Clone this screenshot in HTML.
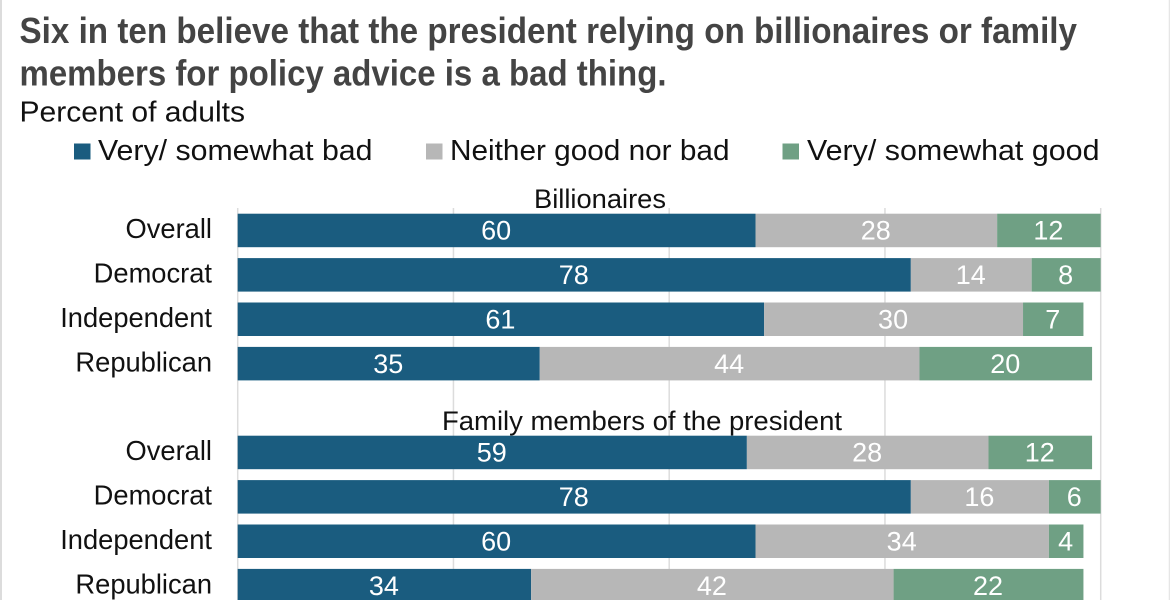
<!DOCTYPE html>
<html lang="en">
<head>
<meta charset="utf-8">
<title>Billionaires and family members as policy advisers</title>
<style>
html,body{margin:0;padding:0;background:#fff;}
body{width:1170px;height:600px;overflow:hidden;}
svg{display:block;font-family:"Liberation Sans",sans-serif;}
</style>
</head>
<body>
<svg id="chart" width="1170" height="600" viewBox="0 0 1170 600" xmlns="http://www.w3.org/2000/svg">
  <rect x="0" y="0" width="2" height="600" fill="#dcdcdc"/>
  <rect x="1168.7" y="0" width="1.3" height="600" fill="#e6e6e6"/>
  <text x="19.5" y="43" font-size="36" font-weight="700" fill="#444444" textLength="1057.5" lengthAdjust="spacingAndGlyphs">Six in ten believe that the president relying on billionaires or family</text>
  <text x="19.5" y="85.5" font-size="36" font-weight="700" fill="#444444" textLength="647" lengthAdjust="spacingAndGlyphs">members for policy advice is a bad thing.</text>
  <text x="19.5" y="121.5" font-size="29" fill="#111111" textLength="225.5" lengthAdjust="spacingAndGlyphs">Percent of adults</text>
  <g>
    <rect x="74" y="143.5" width="16.5" height="16" fill="#1a5c7f"/>
    <text x="98" y="160" font-size="29" fill="#111111" textLength="274.5" lengthAdjust="spacingAndGlyphs">Very/ somewhat bad</text>
    <rect x="426" y="143.5" width="16.5" height="16" fill="#b7b7b7"/>
    <text x="450" y="160" font-size="29" fill="#111111" textLength="279.5" lengthAdjust="spacingAndGlyphs">Neither good nor bad</text>
    <rect x="782.5" y="143.5" width="16.5" height="16" fill="#6fa084"/>
    <text x="807" y="160" font-size="29" fill="#111111" textLength="292.5" lengthAdjust="spacingAndGlyphs">Very/ somewhat good</text>
  </g>
  <g id="grid"></g>
  <g id="bars"></g>
  <text x="600" y="208" font-size="27" fill="#111111" text-anchor="middle" textLength="132" lengthAdjust="spacingAndGlyphs">Billionaires</text>
  <text x="642" y="430" font-size="27" fill="#111111" text-anchor="middle" textLength="400" lengthAdjust="spacingAndGlyphs">Family members of the president</text>
</svg>
<script>
const categories = ['Overall', 'Democrat', 'Independent', 'Republican'];
const gridTicks = [0, 25, 50, 75, 100];
const billionairesBad = [60, 78, 61, 35];
const billionairesNeither = [28, 14, 30, 44];
const billionairesGood = [12, 8, 7, 20];
const familyBad = [59, 78, 60, 34];
const familyNeither = [28, 16, 34, 42];
const familyGood = [12, 6, 4, 22];

const NS = 'http://www.w3.org/2000/svg';
const xScale = function (v) { return 237.7 + v * 8.63; };
const rowTop = function (panel, row) { return (panel === 0 ? 213.7 : 435.7) + row * 44.4; };
const BAR_HEIGHT = 33.5;
const COLORS = ['#1a5c7f', '#b7b7b7', '#6fa084'];
const SERIES_KEYS = ['bad', 'neither', 'good'];
const gridLayer = document.getElementById('grid');
const barLayer = document.getElementById('bars');

gridTicks.forEach(function (t) {
  const line = document.createElementNS(NS, 'line');
  
  
  line.setAttribute('x1', xScale(t));
  line.setAttribute('x2', xScale(t));
  line.setAttribute('y1', 208);
  line.setAttribute('y2', 600);
  line.setAttribute('stroke', '#dcdcdc');
  line.setAttribute('stroke-width', 1.5);
  gridLayer.appendChild(line);
});

function drawPanel(panel, seriesList) {
  categories.forEach(function (cat, row) {
    const top = rowTop(panel, row);
    const label = document.createElementNS(NS, 'text');
    
    
    label.setAttribute('x', 212);
    label.setAttribute('y', top + 24.5);
    label.setAttribute('text-anchor', 'end');
    label.setAttribute('font-size', 27.3);
    label.setAttribute('fill', '#111111');
    label.textContent = cat;
    barLayer.appendChild(label);

    let acc = 0;
    seriesList.forEach(function (series, s) {
      const v = series[row];
      const x0 = xScale(acc);
      const x1 = xScale(acc + v);
      const rect = document.createElementNS(NS, 'rect');
      
      
      rect.setAttribute('x', x0);
      rect.setAttribute('y', top);
      rect.setAttribute('width', x1 - x0);
      rect.setAttribute('height', BAR_HEIGHT);
      rect.setAttribute('fill', COLORS[s]);
      barLayer.appendChild(rect);

      const text = document.createElementNS(NS, 'text');
      
      
      text.setAttribute('x', (x0 + x1) / 2 - 0.5);
      text.setAttribute('y', top + 26);
      text.setAttribute('text-anchor', 'middle');
      text.setAttribute('font-size', 27);
      text.setAttribute('fill', '#ffffff');
      text.textContent = v;
      barLayer.appendChild(text);
      acc += v;
    });
  });
}

drawPanel(0, [billionairesBad, billionairesNeither, billionairesGood]);
drawPanel(1, [familyBad, familyNeither, familyGood]);
</script>
</body>
</html>
